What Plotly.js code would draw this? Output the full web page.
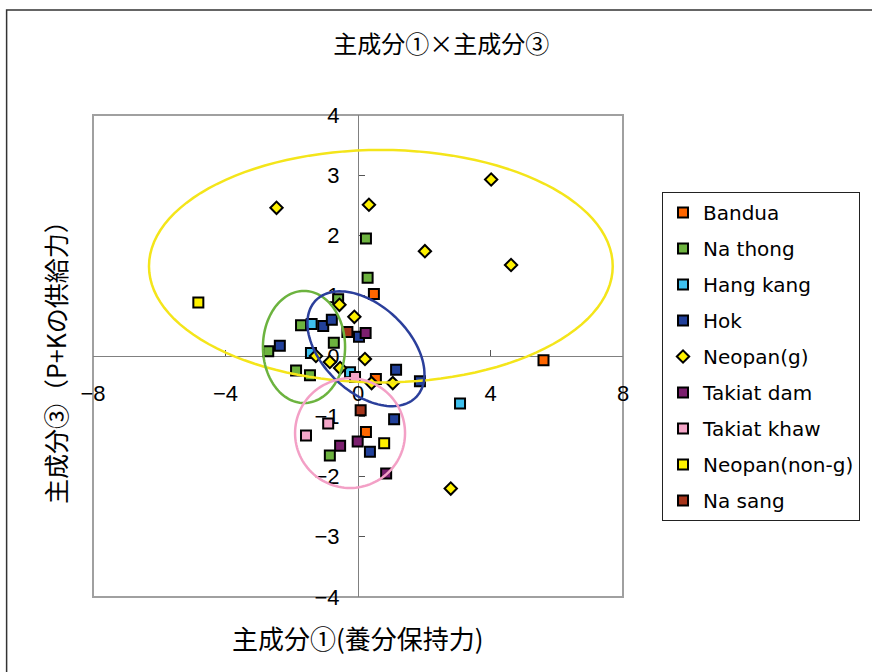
<!DOCTYPE html>
<html>
<head>
<meta charset="utf-8">
<script src="https://cdn.plot.ly/plotly-3.0.1.min.js"></script>
<style>html,body{margin:0;padding:0;background:#fff;}</style>
</head>
<body>
<div id="chart" style="width:872px;height:672px;"></div>
<script>
// Principal component scores (PC1 = nutrient retention, PC3 = P+K supply) by village
const banduaX = [0.48, 0.54, 5.60, 0.24];
const banduaY = [1.03, -0.38, -0.07, -1.26];
const nathongX = [0.24, 0.29, -0.60, -1.72, -0.73, -2.71, -1.87, -1.45, -0.85];
const nathongY = [1.95, 1.30, 0.94, 0.51, 0.22, 0.08, -0.24, -0.32, -1.65];
const hangkangX = [-1.40, -1.42, -0.24, 3.08];
const hangkangY = [0.53, 0.05, -0.27, -0.79];
const hokX = [-1.05, -0.79, 0.03, -2.36, 1.15, 1.87, 1.09, 0.36];
const hokY = [0.50, 0.60, 0.32, 0.17, -0.23, -0.42, -1.05, -1.59];
const neopanGX = [-2.46, 0.33, 4.02, 2.02, 4.62, -0.56, -0.11, -1.27, 0.21, -0.85, -0.54, 0.41, 1.05, 2.80];
const neopanGY = [2.46, 2.51, 2.93, 1.74, 1.51, 0.85, 0.65, 0.00, -0.05, -0.10, -0.20, -0.45, -0.45, -2.20];
const takiatDamX = [0.23, -0.01, -0.54, 0.85];
const takiatDamY = [0.38, -1.42, -1.49, -1.95];
const takiatKhawX = [-0.90, -1.57, -0.09];
const takiatKhawY = [-1.12, -1.32, -0.35];
const neopanNonGX = [-4.82, 0.79];
const neopanNonGY = [0.89, -1.45];
const nasangX = [-0.32, 0.08];
const nasangY = [0.40, -0.90];

// Axis ticks
const xTicks = [-8, -4, 0, 4, 8];
const yTicks = [-4, -3, -2, -1, 0, 1, 2, 3, 4];

// Group ellipses: centre, half-extent in x and y, and x-y correlation
const ellipseCx = [0.69, -1.63, 0.24, -0.24];
const ellipseCy = [1.49, 0.15, 0.12, -1.28];
const ellipseSx = [7.00, 1.24, 1.767, 1.66];
const ellipseSy = [1.93, 0.93, 0.953, 0.91];
const ellipseR  = [0, 0, -0.444, 0];
const ellipseColor = ['#F4E51A', '#6CB33F', '#2B3F9B', '#F3A0C6'];

const series = [
  {name: 'Bandua', x: banduaX, y: banduaY, color: '#FF6600', symbol: 'square'},
  {name: 'Na thong', x: nathongX, y: nathongY, color: '#6DB33F', symbol: 'square'},
  {name: 'Hang kang', x: hangkangX, y: hangkangY, color: '#3EC0EE', symbol: 'square'},
  {name: 'Hok', x: hokX, y: hokY, color: '#21409A', symbol: 'square'},
  {name: 'Neopan(g)', x: neopanGX, y: neopanGY, color: '#FFF200', symbol: 'diamond'},
  {name: 'Takiat dam', x: takiatDamX, y: takiatDamY, color: '#7B1F6E', symbol: 'square'},
  {name: 'Takiat khaw', x: takiatKhawX, y: takiatKhawY, color: '#F4A6C8', symbol: 'square'},
  {name: 'Neopan(non-g)', x: neopanNonGX, y: neopanNonGY, color: '#FFF200', symbol: 'square'},
  {name: 'Na sang', x: nasangX, y: nasangY, color: '#A6351B', symbol: 'square'}
];

const traces = series.map((s, i) => ({
  type: 'scatter',
  mode: 'markers',
  name: s.name,
  x: s.x,
  y: s.y,
  legendgroup: 'g' + i,
  marker: {
    symbol: s.symbol,
    size: s.symbol === 'diamond' ? 9.5 : 10,
    color: s.color,
    line: {color: '#000', width: 2}
  },
  hoverinfo: 'x+y+name'
}));

// Outline path of each ellipse
function ellipsePath(i) {
  const n = 120;
  const q = Math.sqrt(1 - ellipseR[i] * ellipseR[i]);
  let d = '';
  for (let k = 0; k <= n; k++) {
    const t = 2 * Math.PI * k / n;
    const px = ellipseCx[i] + ellipseSx[i] * Math.cos(t);
    const py = ellipseCy[i] + ellipseSy[i] * (ellipseR[i] * Math.cos(t) + q * Math.sin(t));
    d += (k === 0 ? 'M' : 'L') + px.toFixed(4) + ',' + py.toFixed(4);
  }
  return d + 'Z';
}

const shapes = [
  // chart area border
  {type: 'rect', xref: 'paper', yref: 'paper', x0: -0.163, x1: 2, y0: -1, y1: 1.218,
   line: {color: '#333', width: 1.5}, layer: 'below'},
  // plot area frame
  {type: 'rect', xref: 'x domain', yref: 'y domain', x0: 0, x1: 1, y0: 0, y1: 1,
   line: {color: '#A0A0A0', width: 2}, layer: 'below'}
];
ellipseCx.forEach((_, i) => {
  shapes.push({type: 'path', xref: 'x', yref: 'y', path: ellipsePath(i),
    line: {color: ellipseColor[i], width: 2.5}, layer: 'above'});
});

const cjk = '"Noto Sans CJK JP", "Noto Sans", sans-serif';

const layout = {
  width: 872,
  height: 672,
  autosize: false,
  margin: {l: 93, r: 249, t: 115, b: 75},
  paper_bgcolor: '#fff',
  plot_bgcolor: '#fff',
  showlegend: true,
  title: {
    text: '主成分①×主成分③',
    font: {family: cjk, size: 24, color: '#000'},
    x: 0.506, xanchor: 'center', y: 1 - 45 / 672, yanchor: 'middle'
  },
  xaxis: {
    range: [-8, 8],
    tickvals: xTicks,
    ticktext: xTicks.map(v => v < 0 ? '−' + Math.abs(v) : String(v)),
    anchor: 'free', position: 0.5,
    showline: true, linecolor: '#808080', linewidth: 1,
    ticks: 'inside', ticklen: 6, tickcolor: '#555', tickwidth: 1,
    ticklabelstandoff: 18,
    showgrid: false, zeroline: false, layer: 'below traces',
    tickfont: {family: '"Liberation Sans", Arial, sans-serif', size: 22, color: '#000'},
    fixedrange: true
  },
  yaxis: {
    range: [-4, 4],
    tickvals: yTicks,
    ticktext: yTicks.map(v => v < 0 ? '−' + Math.abs(v) : String(v)),
    anchor: 'free', position: 0.5,
    showline: true, linecolor: '#808080', linewidth: 1,
    ticks: 'inside', ticklen: 6, tickcolor: '#555', tickwidth: 1,
    ticklabelstandoff: 14,
    showgrid: false, zeroline: false, layer: 'below traces',
    tickfont: {family: '"Liberation Sans", Arial, sans-serif', size: 22, color: '#000'},
    fixedrange: true
  },
  legend: {
    x: 1.0736, xanchor: 'left',
    y: 0.8402, yanchor: 'top',
    bgcolor: '#fff',
    bordercolor: '#222', borderwidth: 1,
    font: {family: '"DejaVu Sans", sans-serif', size: 20, color: '#000'},
    tracegroupgap: 7,
    itemclick: false, itemdoubleclick: false
  },
  shapes: shapes,
  annotations: [
    {text: '主成分①(養分保持力)', xref: 'paper', yref: 'paper', x: 0.5, y: -0.083,
     xanchor: 'center', yanchor: 'middle', showarrow: false,
     font: {family: cjk, size: 26, color: '#000'}},
    {text: '主成分③（P+Kの供給力）', xref: 'paper', yref: 'paper', x: -0.0717, y: 0.5,
     xanchor: 'center', yanchor: 'middle', showarrow: false, textangle: -90,
     font: {family: cjk, size: 25, color: '#000'}}
  ]
};

Plotly.newPlot('chart', traces, layout, {displayModeBar: false, staticPlot: true});
</script>
</body>
</html>
